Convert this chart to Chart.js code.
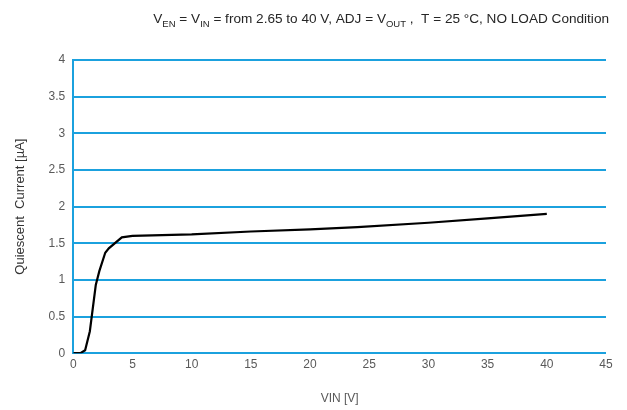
<!DOCTYPE html>
<html>
<head>
<meta charset="utf-8">
<script src="https://cdn.jsdelivr.net/npm/chart.js@4.4.1/dist/chart.umd.min.js"></script>
<style>
  html, body { margin: 0; padding: 0; background: #fff; }
  #wrap { width: 627px; height: 410px; position: relative; }
</style>
</head>
<body>
<div id="wrap"><canvas id="chart1"></canvas></div>
<script>
// data
var vin = [0, 0.6, 1.0, 1.4, 1.9, 2.2, 2.7, 3.0, 4.1, 5, 10, 15, 20, 24, 30, 35, 40];
var iq  = [0, 0, 0.04, 0.3, 0.93, 1.12, 1.37, 1.43, 1.58, 1.6, 1.62, 1.66, 1.69, 1.72, 1.78, 1.84, 1.9];

var gridBlue = '#1ba1de';
var tickGrey = '#595959';

// title with subscripts
var titlePlugin = {
    id: 'subTitle',
    afterDraw: function(chart) {
        var ctx = chart.ctx;
        var parts = [
            ['V', 0], ['EN', 1], [' = V', 0], ['IN', 1],
            [' = from 2.65 to 40 V, ADJ = V', 0], ['OUT', 1],
            [' ,  T = 25 \u00b0C, NO LOAD Condition', 0]
        ];
        var big = '13.6px "Liberation Sans", Arial, sans-serif';
        var small = '9.5px "Liberation Sans", Arial, sans-serif';
        var total = 0;
        parts.forEach(function(p) {
            ctx.font = p[1] ? small : big;
            total += ctx.measureText(p[0]).width;
        });
        var x = 609 - total;
        var y = 23;
        ctx.save();
        ctx.fillStyle = '#262626';
        ctx.textBaseline = 'alphabetic';
        parts.forEach(function(p) {
            ctx.font = p[1] ? small : big;
            ctx.fillText(p[0], x, p[1] ? y + 4 : y);
            x += ctx.measureText(p[0]).width;
        });
        ctx.restore();
    }
};

var ctx = document.getElementById('chart1').getContext('2d');

var myChart = new Chart(ctx, {
    type: 'line',
    data: {
        datasets: [{
            data: vin.map(function(v, i) { return { x: v, y: iq[i] }; }),
            borderColor: '#000000',
            borderWidth: 2.2,
            pointRadius: 0,
            tension: 0,
            fill: false
        }]
    },
    options: {
        responsive: true,
        maintainAspectRatio: false,
        animation: false,
        layout: { padding: { top: 60, right: 21, left: 9, bottom: 0 } },
        plugins: {
            legend: { display: false },
            tooltip: { enabled: false }
        },
        scales: {
            x: {
                type: 'linear',
                min: 0,
                max: 45,
                ticks: {
                    stepSize: 5,
                    color: tickGrey,
                    font: { family: '"Liberation Sans", Arial, sans-serif', size: 12 },
                    padding: 4
                },
                grid: { display: false, drawTicks: false },
                border: { display: false },
                title: {
                    display: true,
                    text: 'VIN [V]',
                    color: tickGrey,
                    font: { family: '"Liberation Sans", Arial, sans-serif', size: 12 },
                    padding: { top: 16, bottom: 4 }
                }
            },
            y: {
                min: 0,
                max: 4,
                ticks: {
                    stepSize: 0.5,
                    color: tickGrey,
                    font: { family: '"Liberation Sans", Arial, sans-serif', size: 12 },
                    padding: 8,
                    callback: function(v) { return String(v); }
                },
                grid: { color: gridBlue, lineWidth: 2, drawTicks: false },
                border: { display: true, color: gridBlue, width: 2 },
                title: {
                    display: true,
                    text: 'Quiescent  Current [\u00b5A]',
                    color: '#333333',
                    font: { family: '"Liberation Sans", Arial, sans-serif', size: 13 },
                    padding: { bottom: 12 }
                }
            }
        }
    },
    plugins: [titlePlugin]
});
</script>
</body>
</html>
